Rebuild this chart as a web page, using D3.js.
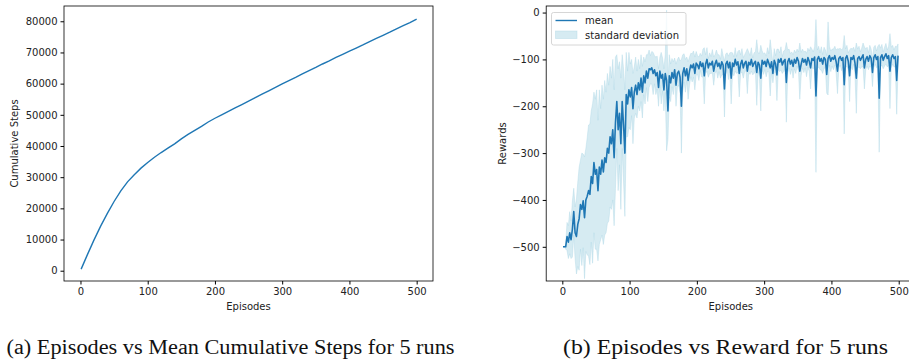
<!DOCTYPE html>
<html>
<head>
<meta charset="utf-8">
<script src="https://cdn.jsdelivr.net/npm/d3@7"></script>
<style>
  body { margin: 0; background: #fff; }
  svg { display: block; }
  .tick text { font-family: "DejaVu Sans", sans-serif; font-size: 10px; fill: #222; }
  .axis-label { font-family: "DejaVu Sans", sans-serif; font-size: 10px; fill: #222; }
  .caption { font-family: "Liberation Serif", "Times New Roman", serif; font-size: 20px; fill: #111; }
</style>
</head>
<body>
<svg width="909" height="362"></svg>
<script>
// left panel: mean cumulative steps, read every 10 episodes
const cumEpisodes = [1, 10, 20, 30, 40, 50, 60, 70, 80, 90, 100, 110, 120, 130, 140, 150, 160, 170, 180, 190,
  200, 210, 220, 230, 240, 250, 260, 270, 280, 290, 300, 310, 320, 330, 340, 350, 360, 370, 380, 390,
  400, 410, 420, 430, 440, 450, 460, 470, 480, 490, 500];
const cumSteps = [500, 5000, 9800, 14300, 18400, 22200, 25600, 28500, 30800, 32900, 34700, 36400, 37900, 39300,
  40700, 42300, 43700, 45000, 46300, 47700, 48900, 50000, 51100, 52200, 53300, 54400, 55500, 56600, 57700,
  58800, 59900, 61000, 62000, 63100, 64200, 65200, 66300, 67300, 68400, 69400, 70400, 71400, 72400, 73500,
  74500, 75500, 76500, 77600, 78600, 79600, 80700];

// right panel: mean reward and standard deviation, every 2nd episode (1, 3, ..., 499)
const rewardMean = [
  -500, -500, -500, -478, -490, -470, -485, -462, -425, -470,
  -478, -452, -440, -410, -420, -402, -438, -400, -392, -380,
  -388, -350, -365, -320, -345, -335, -380, -330, -345, -315,
  -340, -310, -320, -290, -300, -265, -280, -250, -310, -235,
  -190, -250, -215, -280, -190, -240, -300, -175, -195, -165,
  -180, -160, -205, -170, -155, -175, -150, -165, -140, -170,
  -135, -150, -125, -140, -120, -122, -118, -130, -122, -135,
  -128, -160, -125, -140, -132, -165, -130, -145, -210, -135,
  -150, -128, -140, -122, -155, -130, -125, -138, -200, -130,
  -118, -135, -120, -145, -125, -112, -118, -110, -130, -108,
  -112, -120, -105, -115, -108, -135, -110, -100, -118, -108,
  -112, -104, -125, -110, -102, -115, -108, -120, -105, -112,
  -163, -110, -104, -118, -106, -140, -108, -115, -100, -112,
  -105, -130, -110, -102, -118, -108, -104, -125, -106, -112,
  -100, -115, -108, -104, -128, -106, -112, -140, -102, -110,
  -104, -115, -100, -108, -118, -105, -130, -102, -110, -133,
  -100, -106, -98, -112, -104, -100, -149, -105, -98, -110,
  -102, -115, -100, -108, -96, -104, -125, -110, -98, -106,
  -100, -112, -96, -104, -118, -98, -102, -95, -178, -100,
  -94, -104, -98, -110, -96, -100, -132, -98, -92, -104,
  -96, -100, -92, -105, -125, -98, -94, -102, -96, -154,
  -98, -92, -104, -135, -96, -100, -92, -108, -140, -98,
  -94, -102, -96, -90, -118, -100, -94, -104, -92, -98,
  -128, -96, -90, -100, -94, -183, -96, -90, -102, -94,
  -88, -98, -92, -125, -96, -90, -98, -94, -145, -92
];
const rewardStd = [
  0, 0, 5, 30, 35, 45, 40, 60, 50, 55,
  80, 90, 110, 95, 120, 100, 130, 110, 125, 140,
  150, 140, 170, 150, 160, 170, 150, 165, 140, 160,
  155, 165, 150, 160, 145, 150, 140, 150, 145, 140,
  100, 130, 110, 140, 100, 120, 135, 90, 70, 80,
  70, 60, 75, 55, 60, 50, 50, 45, 50, 55,
  40, 45, 35, 50, 40, 30, 35, 45, 30, 40,
  35, 40, 30, 55, 35, 45, 40, 150, 60, 45,
  40, 30, 35, 25, 45, 30, 30, 35, 100, 40,
  30, 35, 25, 40, 30, 25, 30, 28, 35, 25,
  20, 25, 18, 22, 30, 60, 20, 25, 20, 22,
  18, 25, 30, 20, 22, 25, 18, 20, 28, 20,
  60, 22, 18, 25, 20, 55, 22, 20, 25, 18,
  22, 50, 20, 25, 22, 18, 20, 48, 22, 20,
  25, 18, 22, 20, 70, 20, 25, 70, 20, 22,
  18, 22, 25, 20, 60, 22, 20, 25, 18, 55,
  22, 20, 25, 18, 22, 20, 85, 25, 20, 22,
  18, 25, 20, 22, 18, 20, 60, 25, 20, 22,
  18, 25, 20, 22, 45, 20, 18, 22, 163, 20,
  22, 18, 25, 20, 22, 20, 40, 78, 20, 22,
  18, 22, 20, 25, 48, 20, 18, 22, 20, 105,
  20, 22, 18, 55, 20, 22, 18, 25, 75, 20,
  22, 18, 20, 25, 45, 22, 20, 18, 22, 20,
  30, 22, 20, 18, 22, 115, 20, 22, 18, 20,
  22, 18, 20, 80, 22, 20, 18, 22, 72, 25
];
const rewardEpisodes = d3.range(1, 500, 2);

const xTicks = [0, 100, 200, 300, 400, 500];
const stepTicks = [0, 10000, 20000, 30000, 40000, 50000, 60000, 70000, 80000];
const rewardTicks = [0, -100, -200, -300, -400, -500];

const blue = '#1f77b4';
const svg = d3.select('svg');
svg.append('rect').attr('width', 909).attr('height', 362).attr('fill', '#fff');

// ---- left panel
const x1 = d3.scaleLinear().domain([-24.5, 524.3]).range([64, 433]);
const y1 = d3.scaleLinear().domain([-3300, 84900]).range([281, 6]);

const g1 = svg.append('g');
g1.append('path')
  .datum(cumEpisodes.map((e, i) => [e, cumSteps[i]]))
  .attr('fill', 'none')
  .attr('stroke', blue)
  .attr('stroke-width', 1.4)
  .attr('d', d3.line().x(d => x1(d[0])).y(d => y1(d[1])));

g1.append('g')
  .attr('transform', 'translate(0,281)')
  .call(d3.axisBottom(x1).tickValues(xTicks).tickSize(3.5).tickPadding(3).tickSizeOuter(0));
g1.append('g')
  .attr('transform', 'translate(64,0)')
  .call(d3.axisLeft(y1).tickValues(stepTicks).tickFormat(d3.format('d')).tickSize(3.5).tickPadding(3).tickSizeOuter(0));
g1.selectAll('.domain').remove();
g1.append('rect')
  .attr('x', 64).attr('y', 6).attr('width', 369).attr('height', 275)
  .attr('fill', 'none').attr('stroke', '#000').attr('stroke-width', 0.8);

g1.append('text').attr('class', 'axis-label')
  .attr('x', 248.5).attr('y', 310).attr('text-anchor', 'middle').text('Episodes');
g1.append('text').attr('class', 'axis-label')
  .attr('transform', 'translate(18,143.5) rotate(-90)').attr('text-anchor', 'middle').text('Cumulative Steps');

// ---- right panel
const x2 = d3.scaleLinear().domain([-23.95, 524.95]).range([546.2, 915.5]);
const y2 = d3.scaleLinear().domain([-573, 14]).range([281, 6]);

const g2 = svg.append('g');
const rows = rewardEpisodes.map((e, i) => ({ e, m: rewardMean[i], s: rewardStd[i] }));

g2.append('path')
  .datum(rows)
  .attr('fill', 'lightblue')
  .attr('fill-opacity', 0.5)
  .attr('stroke', 'lightblue')
  .attr('stroke-opacity', 0.5)
  .attr('stroke-width', 0.8)
  .attr('d', d3.area().x(d => x2(d.e)).y0(d => y2(d.m - d.s)).y1(d => y2(d.m + d.s)));

g2.append('path')
  .datum(rows)
  .attr('fill', 'none')
  .attr('stroke', blue)
  .attr('stroke-width', 1.6)
  .attr('stroke-linejoin', 'round')
  .attr('d', d3.line().x(d => x2(d.e)).y(d => y2(d.m)));

g2.append('g')
  .attr('transform', 'translate(0,281)')
  .call(d3.axisBottom(x2).tickValues(xTicks).tickSize(3.5).tickPadding(3).tickSizeOuter(0));
g2.append('g')
  .attr('transform', 'translate(546.2,0)')
  .call(d3.axisLeft(y2).tickValues(rewardTicks).tickSize(3.5).tickPadding(3).tickSizeOuter(0));
g2.selectAll('.domain').remove();
g2.append('rect')
  .attr('x', 546.2).attr('y', 6).attr('width', 369.3).attr('height', 275)
  .attr('fill', 'none').attr('stroke', '#000').attr('stroke-width', 0.8);

g2.append('text').attr('class', 'axis-label')
  .attr('x', 730.8).attr('y', 310).attr('text-anchor', 'middle').text('Episodes');
g2.append('text').attr('class', 'axis-label')
  .attr('transform', 'translate(506,143.5) rotate(-90)').attr('text-anchor', 'middle').text('Rewards');

// legend
const lg = g2.append('g');
lg.append('rect')
  .attr('x', 551.5).attr('y', 12.5).attr('width', 134.5).attr('height', 32.5).attr('rx', 2)
  .attr('fill', '#fff').attr('fill-opacity', 0.8).attr('stroke', '#ccc').attr('stroke-width', 0.8);
lg.append('line')
  .attr('x1', 555.5).attr('x2', 577).attr('y1', 20.5).attr('y2', 20.5)
  .attr('stroke', blue).attr('stroke-width', 1.4);
lg.append('rect')
  .attr('x', 555.5).attr('y', 31).attr('width', 21.5).attr('height', 7.5)
  .attr('fill', 'lightblue').attr('fill-opacity', 0.5)
  .attr('stroke', 'lightblue').attr('stroke-opacity', 0.5).attr('stroke-width', 0.8);
lg.append('text').attr('class', 'axis-label').attr('x', 585).attr('y', 24).text('mean');
lg.append('text').attr('class', 'axis-label').attr('x', 585).attr('y', 38.5).text('standard deviation');

// captions
svg.append('text').attr('class', 'caption')
  .attr('x', 6.5).attr('y', 354)
  .attr('textLength', 448).attr('lengthAdjust', 'spacingAndGlyphs')
  .text('(a) Episodes vs Mean Cumulative Steps for 5 runs');
svg.append('text').attr('class', 'caption')
  .attr('x', 563).attr('y', 354)
  .attr('textLength', 325).attr('lengthAdjust', 'spacingAndGlyphs')
  .text('(b) Episodes vs Reward for 5 runs');
</script>
</body>
</html>
